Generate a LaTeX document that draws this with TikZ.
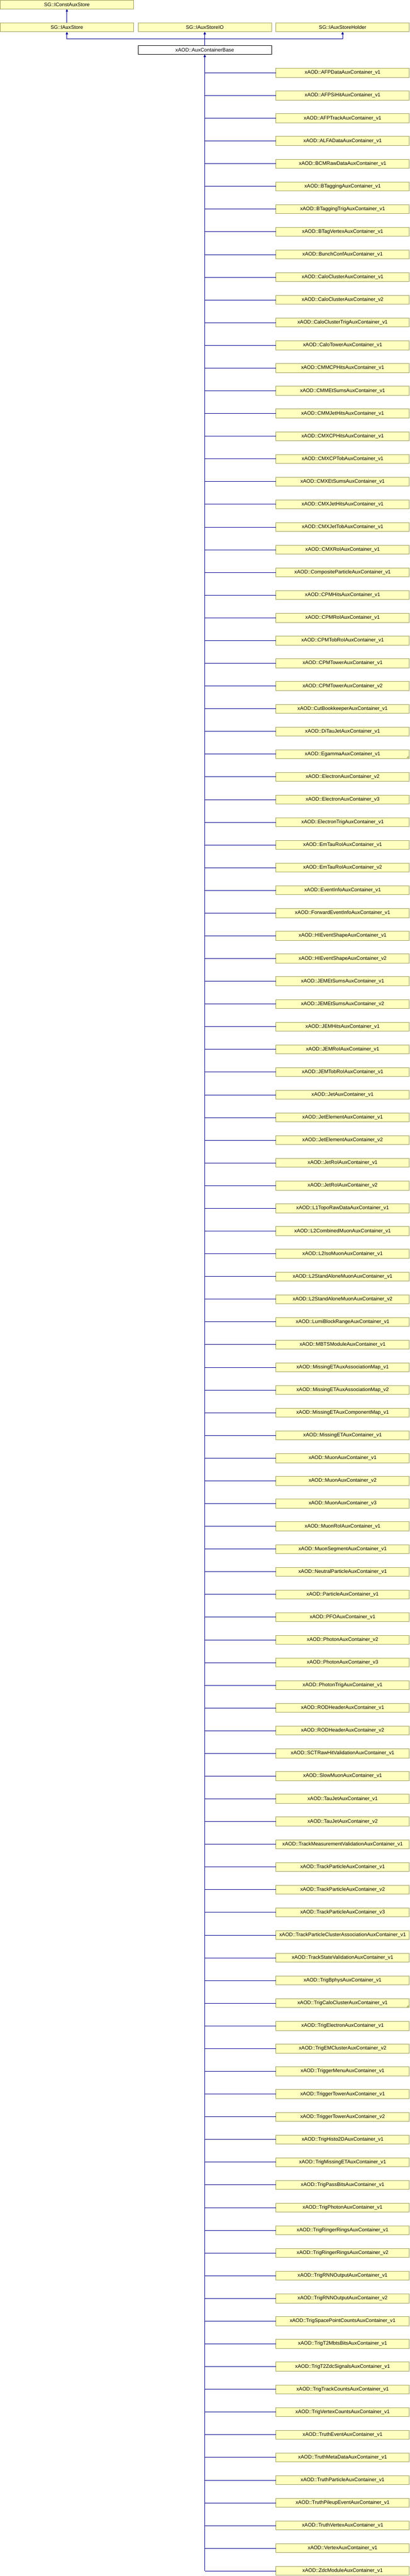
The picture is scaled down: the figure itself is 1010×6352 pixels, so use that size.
\documentclass[tikz,border=0pt]{standalone}
\usepackage{fontspec}
\setmainfont{Liberation Sans}
\usetikzlibrary{chains,positioning,arrows.meta}

\definecolor{boxfill}{HTML}{FFFFC0}
\definecolor{boxborder}{HTML}{9F9F60}
\definecolor{linkblue}{HTML}{000090}

\begin{document}
\begin{tikzpicture}
\path[use as bounding box] (0,0) rectangle (1010pt,-6352pt);

\edef\boxwidth{329pt}
\tikzstyle{auxbox}=[draw=boxborder,fill=boxfill,line width=1pt,minimum width=\boxwidth,
minimum height=22pt,inner sep=0pt,outer sep=0pt,font=\fontsize{12.5}{14}\selectfont]
\tikzstyle{rootbox}=[auxbox,draw=black,fill=white]
\tikzstyle{inherit}=[draw=linkblue,line width=1pt,-{Triangle[length=6pt,width=6pt]}]
\tikzstyle{link}=[draw=linkblue,line width=1pt]

%% Draw interface row
\begin{scope}[start chain=1 going right,node distance=11pt]
    \node [on chain=1,auxbox,anchor=north west] (store) at (0.5pt,-56.5pt) {SG::IAuxStore};
    \node [on chain=1,auxbox] (storeio) {SG::IAuxStoreIO};
    \node [on chain=1,auxbox] (holder) {SG::IAuxStoreHolder};
\end{scope}

\node [auxbox,above=34pt of store] (conststore) {SG::IConstAuxStore};
\node [rootbox,below=34pt of storeio] (base) {xAOD::AuxContainerBase};

%% Draw derived containers
\begin{scope}[start chain=2 going below,node distance=34pt]
    \node [on chain=2,auxbox,anchor=north west] (c0) at ([shift={(11pt,-34pt)}]base.south east) {xAOD::AFPDataAuxContainer\_v1};
    \node [on chain=2,auxbox] (c1) {xAOD::AFPSiHitAuxContainer\_v1};
    \node [on chain=2,auxbox] (c2) {xAOD::AFPTrackAuxContainer\_v1};
    \node [on chain=2,auxbox] (c3) {xAOD::ALFADataAuxContainer\_v1};
    \node [on chain=2,auxbox] (c4) {xAOD::BCMRawDataAuxContainer\_v1};
    \node [on chain=2,auxbox] (c5) {xAOD::BTaggingAuxContainer\_v1};
    \node [on chain=2,auxbox] (c6) {xAOD::BTaggingTrigAuxContainer\_v1};
    \node [on chain=2,auxbox] (c7) {xAOD::BTagVertexAuxContainer\_v1};
    \node [on chain=2,auxbox] (c8) {xAOD::BunchConfAuxContainer\_v1};
    \node [on chain=2,auxbox] (c9) {xAOD::CaloClusterAuxContainer\_v1};
    \node [on chain=2,auxbox] (c10) {xAOD::CaloClusterAuxContainer\_v2};
    \node [on chain=2,auxbox] (c11) {xAOD::CaloClusterTrigAuxContainer\_v1};
    \node [on chain=2,auxbox] (c12) {xAOD::CaloTowerAuxContainer\_v1};
    \node [on chain=2,auxbox] (c13) {xAOD::CMMCPHitsAuxContainer\_v1};
    \node [on chain=2,auxbox] (c14) {xAOD::CMMEtSumsAuxContainer\_v1};
    \node [on chain=2,auxbox] (c15) {xAOD::CMMJetHitsAuxContainer\_v1};
    \node [on chain=2,auxbox] (c16) {xAOD::CMXCPHitsAuxContainer\_v1};
    \node [on chain=2,auxbox] (c17) {xAOD::CMXCPTobAuxContainer\_v1};
    \node [on chain=2,auxbox] (c18) {xAOD::CMXEtSumsAuxContainer\_v1};
    \node [on chain=2,auxbox] (c19) {xAOD::CMXJetHitsAuxContainer\_v1};
    \node [on chain=2,auxbox] (c20) {xAOD::CMXJetTobAuxContainer\_v1};
    \node [on chain=2,auxbox] (c21) {xAOD::CMXRoIAuxContainer\_v1};
    \node [on chain=2,auxbox] (c22) {xAOD::CompositeParticleAuxContainer\_v1};
    \node [on chain=2,auxbox] (c23) {xAOD::CPMHitsAuxContainer\_v1};
    \node [on chain=2,auxbox] (c24) {xAOD::CPMRoIAuxContainer\_v1};
    \node [on chain=2,auxbox] (c25) {xAOD::CPMTobRoIAuxContainer\_v1};
    \node [on chain=2,auxbox] (c26) {xAOD::CPMTowerAuxContainer\_v1};
    \node [on chain=2,auxbox] (c27) {xAOD::CPMTowerAuxContainer\_v2};
    \node [on chain=2,auxbox] (c28) {xAOD::CutBookkeeperAuxContainer\_v1};
    \node [on chain=2,auxbox] (c29) {xAOD::DiTauJetAuxContainer\_v1};
    \node [on chain=2,auxbox] (c30) {xAOD::EgammaAuxContainer\_v1};
    \node [on chain=2,auxbox] (c31) {xAOD::ElectronAuxContainer\_v2};
    \node [on chain=2,auxbox] (c32) {xAOD::ElectronAuxContainer\_v3};
    \node [on chain=2,auxbox] (c33) {xAOD::ElectronTrigAuxContainer\_v1};
    \node [on chain=2,auxbox] (c34) {xAOD::EmTauRoIAuxContainer\_v1};
    \node [on chain=2,auxbox] (c35) {xAOD::EmTauRoIAuxContainer\_v2};
    \node [on chain=2,auxbox] (c36) {xAOD::EventInfoAuxContainer\_v1};
    \node [on chain=2,auxbox] (c37) {xAOD::ForwardEventInfoAuxContainer\_v1};
    \node [on chain=2,auxbox] (c38) {xAOD::HIEventShapeAuxContainer\_v1};
    \node [on chain=2,auxbox] (c39) {xAOD::HIEventShapeAuxContainer\_v2};
    \node [on chain=2,auxbox] (c40) {xAOD::JEMEtSumsAuxContainer\_v1};
    \node [on chain=2,auxbox] (c41) {xAOD::JEMEtSumsAuxContainer\_v2};
    \node [on chain=2,auxbox] (c42) {xAOD::JEMHitsAuxContainer\_v1};
    \node [on chain=2,auxbox] (c43) {xAOD::JEMRoIAuxContainer\_v1};
    \node [on chain=2,auxbox] (c44) {xAOD::JEMTobRoIAuxContainer\_v1};
    \node [on chain=2,auxbox] (c45) {xAOD::JetAuxContainer\_v1};
    \node [on chain=2,auxbox] (c46) {xAOD::JetElementAuxContainer\_v1};
    \node [on chain=2,auxbox] (c47) {xAOD::JetElementAuxContainer\_v2};
    \node [on chain=2,auxbox] (c48) {xAOD::JetRoIAuxContainer\_v1};
    \node [on chain=2,auxbox] (c49) {xAOD::JetRoIAuxContainer\_v2};
    \node [on chain=2,auxbox] (c50) {xAOD::L1TopoRawDataAuxContainer\_v1};
    \node [on chain=2,auxbox] (c51) {xAOD::L2CombinedMuonAuxContainer\_v1};
    \node [on chain=2,auxbox] (c52) {xAOD::L2IsoMuonAuxContainer\_v1};
    \node [on chain=2,auxbox] (c53) {xAOD::L2StandAloneMuonAuxContainer\_v1};
    \node [on chain=2,auxbox] (c54) {xAOD::L2StandAloneMuonAuxContainer\_v2};
    \node [on chain=2,auxbox] (c55) {xAOD::LumiBlockRangeAuxContainer\_v1};
    \node [on chain=2,auxbox] (c56) {xAOD::MBTSModuleAuxContainer\_v1};
    \node [on chain=2,auxbox] (c57) {xAOD::MissingETAuxAssociationMap\_v1};
    \node [on chain=2,auxbox] (c58) {xAOD::MissingETAuxAssociationMap\_v2};
    \node [on chain=2,auxbox] (c59) {xAOD::MissingETAuxComponentMap\_v1};
    \node [on chain=2,auxbox] (c60) {xAOD::MissingETAuxContainer\_v1};
    \node [on chain=2,auxbox] (c61) {xAOD::MuonAuxContainer\_v1};
    \node [on chain=2,auxbox] (c62) {xAOD::MuonAuxContainer\_v2};
    \node [on chain=2,auxbox] (c63) {xAOD::MuonAuxContainer\_v3};
    \node [on chain=2,auxbox] (c64) {xAOD::MuonRoIAuxContainer\_v1};
    \node [on chain=2,auxbox] (c65) {xAOD::MuonSegmentAuxContainer\_v1};
    \node [on chain=2,auxbox] (c66) {xAOD::NeutralParticleAuxContainer\_v1};
    \node [on chain=2,auxbox] (c67) {xAOD::ParticleAuxContainer\_v1};
    \node [on chain=2,auxbox] (c68) {xAOD::PFOAuxContainer\_v1};
    \node [on chain=2,auxbox] (c69) {xAOD::PhotonAuxContainer\_v2};
    \node [on chain=2,auxbox] (c70) {xAOD::PhotonAuxContainer\_v3};
    \node [on chain=2,auxbox] (c71) {xAOD::PhotonTrigAuxContainer\_v1};
    \node [on chain=2,auxbox] (c72) {xAOD::RODHeaderAuxContainer\_v1};
    \node [on chain=2,auxbox] (c73) {xAOD::RODHeaderAuxContainer\_v2};
    \node [on chain=2,auxbox] (c74) {xAOD::SCTRawHitValidationAuxContainer\_v1};
    \node [on chain=2,auxbox] (c75) {xAOD::SlowMuonAuxContainer\_v1};
    \node [on chain=2,auxbox] (c76) {xAOD::TauJetAuxContainer\_v1};
    \node [on chain=2,auxbox] (c77) {xAOD::TauJetAuxContainer\_v2};
    \node [on chain=2,auxbox] (c78) {xAOD::TrackMeasurementValidationAuxContainer\_v1};
    \node [on chain=2,auxbox] (c79) {xAOD::TrackParticleAuxContainer\_v1};
    \node [on chain=2,auxbox] (c80) {xAOD::TrackParticleAuxContainer\_v2};
    \node [on chain=2,auxbox] (c81) {xAOD::TrackParticleAuxContainer\_v3};
    \node [on chain=2,auxbox] (c82) {xAOD::TrackParticleClusterAssociationAuxContainer\_v1};
    \node [on chain=2,auxbox] (c83) {xAOD::TrackStateValidationAuxContainer\_v1};
    \node [on chain=2,auxbox] (c84) {xAOD::TrigBphysAuxContainer\_v1};
    \node [on chain=2,auxbox] (c85) {xAOD::TrigCaloClusterAuxContainer\_v1};
    \node [on chain=2,auxbox] (c86) {xAOD::TrigElectronAuxContainer\_v1};
    \node [on chain=2,auxbox] (c87) {xAOD::TrigEMClusterAuxContainer\_v2};
    \node [on chain=2,auxbox] (c88) {xAOD::TriggerMenuAuxContainer\_v1};
    \node [on chain=2,auxbox] (c89) {xAOD::TriggerTowerAuxContainer\_v1};
    \node [on chain=2,auxbox] (c90) {xAOD::TriggerTowerAuxContainer\_v2};
    \node [on chain=2,auxbox] (c91) {xAOD::TrigHisto2DAuxContainer\_v1};
    \node [on chain=2,auxbox] (c92) {xAOD::TrigMissingETAuxContainer\_v1};
    \node [on chain=2,auxbox] (c93) {xAOD::TrigPassBitsAuxContainer\_v1};
    \node [on chain=2,auxbox] (c94) {xAOD::TrigPhotonAuxContainer\_v1};
    \node [on chain=2,auxbox] (c95) {xAOD::TrigRingerRingsAuxContainer\_v1};
    \node [on chain=2,auxbox] (c96) {xAOD::TrigRingerRingsAuxContainer\_v2};
    \node [on chain=2,auxbox] (c97) {xAOD::TrigRNNOutputAuxContainer\_v1};
    \node [on chain=2,auxbox] (c98) {xAOD::TrigRNNOutputAuxContainer\_v2};
    \node [on chain=2,auxbox] (c99) {xAOD::TrigSpacePointCountsAuxContainer\_v1};
    \node [on chain=2,auxbox] (c100) {xAOD::TrigT2MbtsBitsAuxContainer\_v1};
    \node [on chain=2,auxbox] (c101) {xAOD::TrigT2ZdcSignalsAuxContainer\_v1};
    \node [on chain=2,auxbox] (c102) {xAOD::TrigTrackCountsAuxContainer\_v1};
    \node [on chain=2,auxbox] (c103) {xAOD::TrigVertexCountsAuxContainer\_v1};
    \node [on chain=2,auxbox] (c104) {xAOD::TruthEventAuxContainer\_v1};
    \node [on chain=2,auxbox] (c105) {xAOD::TruthMetaDataAuxContainer\_v1};
    \node [on chain=2,auxbox] (c106) {xAOD::TruthParticleAuxContainer\_v1};
    \node [on chain=2,auxbox] (c107) {xAOD::TruthPileupEventAuxContainer\_v1};
    \node [on chain=2,auxbox] (c108) {xAOD::TruthVertexAuxContainer\_v1};
    \node [on chain=2,auxbox] (c109) {xAOD::VertexAuxContainer\_v1};
    \node [on chain=2,auxbox] (c110) {xAOD::ZdcModuleAuxContainer\_v1};
\end{scope}

%% Marks for classes with further subclasses
\fill[boxborder] ([shift={(-1.5pt,1.5pt)}]c30.south east) -- ++(-5pt,0) -- ++(5pt,5pt) -- cycle;
\fill[boxborder] ([shift={(-1.5pt,1.5pt)}]c85.south east) -- ++(-5pt,0) -- ++(5pt,5pt) -- cycle;

%% Inheritance links
\coordinate (bar) at ([yshift=16.5pt]base.north);
\draw[inherit] (store.north) -- (conststore.south);
\draw[inherit] (base.north) -- (storeio.south);
\draw[inherit] (bar) -| (store.south);
\draw[inherit] (bar) -| (holder.south);

\coordinate (trunkend) at (base.south |- c110.west);
\draw[inherit] (trunkend) -- (base.south);
\foreach \i in {0,...,110}
    \draw[link] (c\i.west) -- (c\i.west -| base.south);

\end{tikzpicture}
\end{document}
